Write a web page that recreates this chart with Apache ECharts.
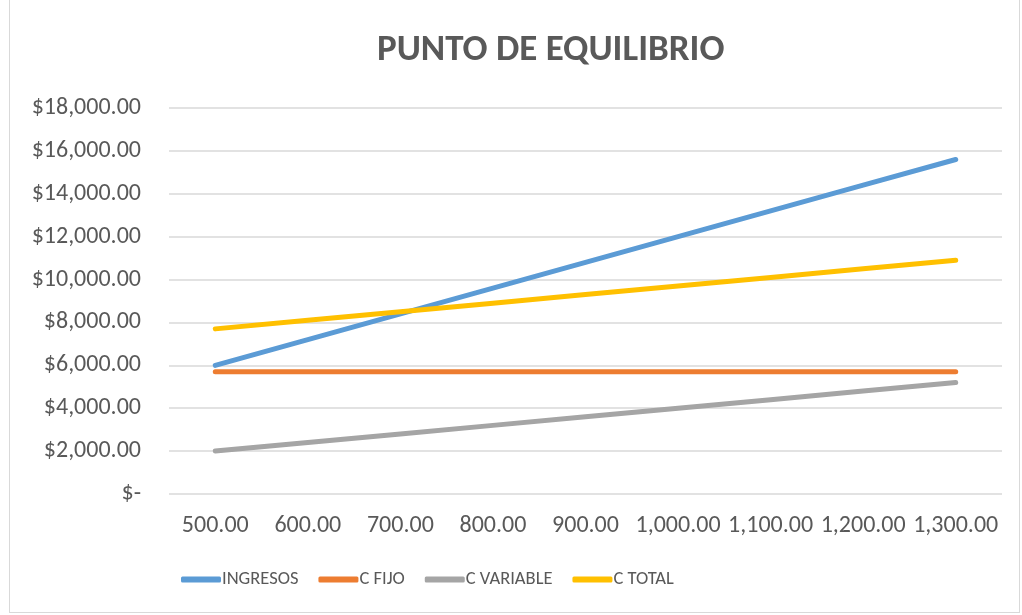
<!DOCTYPE html>
<html>
<head>
<meta charset="utf-8">
<script src="https://cdn.jsdelivr.net/npm/echarts@6/dist/echarts.min.js"></script>
<style>
    html,body{margin:0;padding:0;background:#fff;}
    #box{position:absolute;left:9px;top:0;width:1011px;height:613px;border:1px solid #d9d9d9;border-top:none;box-sizing:border-box;}
    #chart{position:absolute;left:0;top:0;width:1022px;height:615px;}
</style>
</head>
<body>
<div id="box"></div>
<div id="chart"></div>
<script>
var unidades=['500.00','600.00','700.00','800.00','900.00','1,000.00','1,100.00','1,200.00','1,300.00'];
var ingresos=[6000,7200,8400,9600,10800,12000,13200,14400,15600];
var cFijo=[5700,5700,5700,5700,5700,5700,5700,5700,5700];
var cVariable=[2000,2400,2800,3200,3600,4000,4400,4800,5200];
var cTotal=[7700,8100,8500,8900,9300,9700,10100,10500,10900];

var fuente='Carlito, Lato, "Open Sans", sans-serif';
var gris='#595959';

function moneda(v){
    if(v===0){return '$-';}
    return '$'+v.toLocaleString('en-US',{minimumFractionDigits:2,maximumFractionDigits:2});
}

function serie(nombre,datos,color){
    return {
        name:nombre,
        type:'line',
        data:datos,
        symbol:'none',
        lineStyle:{width:5,color:color,cap:'round'},
        itemStyle:{color:color},
        emphasis:{disabled:true}
    };
}

var chart=echarts.init(document.getElementById('chart'));
var option={
    animation:false,
    title:{
        text:'PUNTO DE EQUILIBRIO',
        left:372,
        top:27,
        textStyle:{fontFamily:fuente,fontSize:37,fontWeight:'bold',color:gris}
    },
    legend:{
        bottom:21,
        left:176,
        itemWidth:40,
        itemHeight:6,
        itemGap:20,
        icon:'roundRect',
        textStyle:{fontFamily:fuente,fontSize:18.5,color:gris,padding:[0,0,0,-4]},
        data:['INGRESOS','C FIJO','C VARIABLE','C TOTAL']
    },
    grid:{left:169,right:20,top:108,bottom:121},
    xAxis:{
        type:'category',
        data:unidades,
        boundaryGap:true,
        axisLine:{show:false},
        axisTick:{show:false},
        axisLabel:{fontFamily:fuente,fontSize:24,color:gris,margin:20,interval:0}
    },
    yAxis:{
        type:'value',
        min:0,
        max:18000,
        interval:2000,
        axisLine:{show:false},
        axisTick:{show:false},
        splitLine:{lineStyle:{color:'#d9d9d9',width:1.5}},
        axisLabel:{fontFamily:fuente,fontSize:24,color:gris,margin:28,formatter:moneda}
    },
    series:[
        serie('INGRESOS',ingresos,'#5b9bd5'),
        serie('C FIJO',cFijo,'#ed7d31'),
        serie('C VARIABLE',cVariable,'#a5a5a5'),
        serie('C TOTAL',cTotal,'#ffc000')
    ]
};
chart.setOption(option);
window.addEventListener('resize',function(){
    chart.resize();
});
</script>
</body>
</html>
